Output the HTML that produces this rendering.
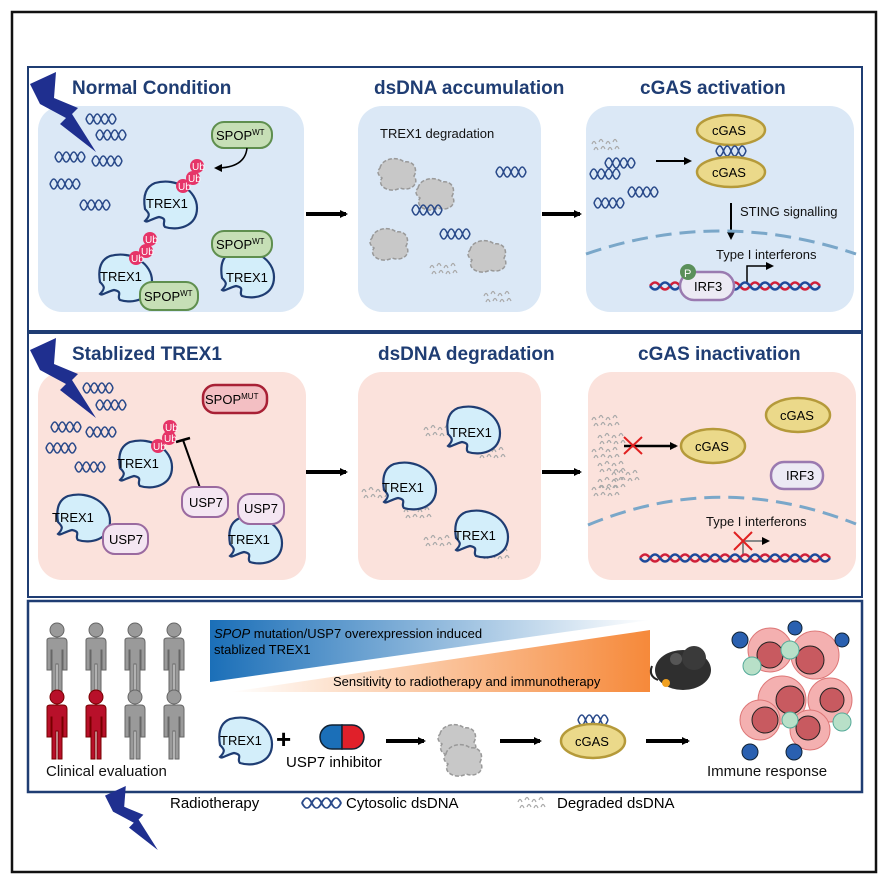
<!DOCTYPE html>
<html><head><meta charset="utf-8"><style>
html,body{margin:0;padding:0;background:#fff}
svg{display:block;font-family:"Liberation Sans",sans-serif}
.t{font-weight:bold;font-size:19px;fill:#1f3d73}
.l{font-size:13px;fill:#111}
</style></head><body>
<svg width="887" height="885" viewBox="0 0 887 885" xmlns="http://www.w3.org/2000/svg">
<defs>
<g id="dna"><path d="M0,0 q3.75,-10 7.5,0 t7.5,0 t7.5,0 t7.5,0" fill="none" stroke="#2a4a8a" stroke-width="1.6"/><path d="M0,0 q3.75,10 7.5,0 t7.5,0 t7.5,0 t7.5,0" fill="none" stroke="#2a4a8a" stroke-width="1.6"/></g>
<g id="deg"><path d="M0,0 q2,-5 4,0 M7,-2 q2,-5 4,0 M14,0 q2,-5 4,0 M21,-2 q2,-5 4,0 M2,6 q2,-5 4,0 M9,5 q2,-5 4,0 M16,6 q2,-5 4,0 M23,5 q2,-5 4,0" stroke="#aaa" stroke-width="1.2" fill="none"/></g>
<g id="trex"><path d="M8,0 C30,-6 50,8 50,25 C50,44 30,48 18,44 C14,40 22,36 12,34 C4,36 0,40 -2,38 C4,32 2,30 -2,26 C-4,14 -2,4 8,0Z" fill="#d3eefa" stroke="#1f3d73" stroke-width="2.2"/></g>
<g id="blob"><path d="M0,10 C2,0 18,-2 24,4 C34,2 38,12 34,18 C40,26 30,34 20,30 C10,36 -4,28 2,20 C-4,16 -2,12 0,10Z" fill="#c8c8c8" stroke="#999" stroke-width="1.5" stroke-dasharray="4,2"/></g>
<g id="ub"><circle cx="0" cy="0" r="7" fill="#e63468"/><text x="-5" y="4" font-size="10" fill="#fff">Ub</text></g>
<g id="bolt"><path d="M0,12 L26,0 L24,26 L48,36 L42,42 L66,80 L30,52 L36,46 L10,32 Z" fill="#1f2f8f"/></g>
<g id="person"><circle cx="0" cy="0" r="7"/><path d="M-10,10 Q-10,8 -6,8 H6 Q10,8 10,12 V40 H6 V20 H5 V62 H1 V34 H-1 V62 H-5 V20 H-6 V40 H-10Z"/></g>
<marker id="ar" markerWidth="8" markerHeight="8" refX="6" refY="4" orient="auto" markerUnits="userSpaceOnUse"><path d="M0,0 L8,4 L0,8Z" fill="#000"/></marker>
<linearGradient id="gb" x1="0" x2="1"><stop offset="0" stop-color="#1b6fb8"/><stop offset="1" stop-color="#fff"/></linearGradient>
<linearGradient id="go" x1="0" x2="1"><stop offset="0" stop-color="#fff"/><stop offset="1" stop-color="#f6893a"/></linearGradient>
</defs>
<rect x="12" y="12" width="864" height="860" fill="#fff" stroke="#111" stroke-width="2.5"/>
<rect x="28" y="67" width="834" height="264" fill="none" stroke="#1f3d73" stroke-width="2"/>
<rect x="28" y="333" width="834" height="264" fill="none" stroke="#1f3d73" stroke-width="2"/>
<rect x="28" y="601" width="834" height="191" fill="none" stroke="#1f3d73" stroke-width="2.5"/>
<!-- panel1 -->
<rect x="38" y="106" width="266" height="206" rx="24" fill="#dbe8f6"/>
<rect x="358" y="106" width="183" height="206" rx="24" fill="#dbe8f6"/>
<rect x="586" y="106" width="268" height="206" rx="24" fill="#dbe8f6"/>
<text class="t" x="72" y="94">Normal Condition</text>
<text class="t" x="374" y="94">dsDNA accumulation</text>
<text class="t" x="640" y="94">cGAS activation</text>
<use href="#bolt" x="30" y="72"/>
<use href="#dna" x="86" y="119"/><use href="#dna" x="96" y="135"/><use href="#dna" x="55" y="157"/><use href="#dna" x="92" y="161"/><use href="#dna" x="50" y="184"/><use href="#dna" x="80" y="205"/>
<rect x="212" y="122" width="60" height="26" rx="12" fill="#c6dfb6" stroke="#5f8f4f" stroke-width="2"/><text x="216" y="140" font-size="13">SPOP<tspan font-size="8" dy="-5">WT</tspan></text>
<path d="M247,148 Q245,168 216,168" fill="none" stroke="#000" stroke-width="1.5" marker-end="url(#ar)"/>
<use href="#trex" x="147" y="183"/><text x="146" y="208" font-size="13">TREX1</text>
<use href="#ub" x="197" y="166"/><use href="#ub" x="193" y="178"/><use href="#ub" x="183" y="186"/>
<use href="#trex" x="102" y="256"/><text x="100" y="281" font-size="13">TREX1</text>
<use href="#ub" x="150" y="239"/><use href="#ub" x="146" y="251"/><use href="#ub" x="136" y="258"/>
<rect x="140" y="282" width="58" height="28" rx="12" fill="#c6dfb6" stroke="#5f8f4f" stroke-width="2"/><text x="144" y="301" font-size="13">SPOP<tspan font-size="8" dy="-5">WT</tspan></text>
<use href="#trex" x="224" y="252"/><text x="226" y="282" font-size="13">TREX1</text>
<rect x="212" y="231" width="60" height="26" rx="12" fill="#c6dfb6" stroke="#5f8f4f" stroke-width="2"/><text x="216" y="249" font-size="13">SPOP<tspan font-size="8" dy="-5">WT</tspan></text>
<line x1="306" y1="214" x2="346" y2="214" stroke="#000" stroke-width="4" marker-end="url(#ar)"/>
<line x1="542" y1="214" x2="580" y2="214" stroke="#000" stroke-width="4" marker-end="url(#ar)"/>
<text class="l" x="380" y="138">TREX1 degradation</text>
<use href="#blob" x="380" y="158"/><use href="#blob" x="418" y="178"/><use href="#blob" x="372" y="228"/><use href="#blob" x="470" y="240"/>
<use href="#dna" x="496" y="172"/><use href="#dna" x="412" y="210"/><use href="#dna" x="440" y="234"/>
<use href="#deg" x="430" y="268"/><use href="#deg" x="484" y="296"/>
<use href="#deg" x="592" y="144"/><use href="#dna" x="605" y="163"/><use href="#dna" x="590" y="174"/><use href="#dna" x="628" y="192"/><use href="#dna" x="594" y="203"/>
<line x1="656" y1="161" x2="690" y2="161" stroke="#000" stroke-width="2" marker-end="url(#ar)"/>
<ellipse cx="731" cy="130" rx="34" ry="15" fill="#ebd98a" stroke="#b59a3a" stroke-width="2.5"/><text x="712" y="135" font-size="13">cGAS</text>
<use href="#dna" x="716" y="151"/>
<ellipse cx="731" cy="172" rx="34" ry="15" fill="#ebd98a" stroke="#b59a3a" stroke-width="2.5"/><text x="712" y="177" font-size="13">cGAS</text>
<line x1="731" y1="203" x2="731" y2="238" stroke="#000" stroke-width="2" marker-end="url(#ar)"/>
<text class="l" x="740" y="216">STING signalling</text>
<path d="M586,254 Q720,208 856,254" fill="none" stroke="#7aa7c9" stroke-width="3" stroke-dasharray="16,8"/>
<text class="l" x="716" y="259">Type I interferons</text>
<path d="M747,283 V266 H772" fill="none" stroke="#000" stroke-width="1.5" marker-end="url(#ar)"/>
<path d="M650,286 q5,-7 10,0 t10,0 t10,0 t10,0 t10,0 t10,0 t10,0 t10,0 t10,0 t10,0 t10,0 t10,0 t10,0 t10,0 t10,0 t10,0 t10,0" fill="none" stroke="#d0203a" stroke-width="2.5"/>
<path d="M650,286 q5,7 10,0 t10,0 t10,0 t10,0 t10,0 t10,0 t10,0 t10,0 t10,0 t10,0 t10,0 t10,0 t10,0 t10,0 t10,0 t10,0 t10,0" fill="none" stroke="#1f4a9a" stroke-width="2.5"/>
<rect x="680" y="272" width="54" height="28" rx="14" fill="#eceaf4" stroke="#9a7ab0" stroke-width="2.5"/><text x="694" y="291" font-size="13">IRF3</text>
<circle cx="688" cy="272" r="8" fill="#5a8f5a"/><text x="684" y="277" font-size="11" fill="#fff">P</text>
<!-- panel2 -->
<rect x="38" y="372" width="268" height="208" rx="24" fill="#fbe2dc"/>
<rect x="358" y="372" width="183" height="208" rx="24" fill="#fbe2dc"/>
<rect x="588" y="372" width="268" height="208" rx="24" fill="#fbe2dc"/>
<text class="t" x="72" y="360">Stablized TREX1</text>
<text class="t" x="378" y="360">dsDNA degradation</text>
<text class="t" x="638" y="360">cGAS inactivation</text>
<use href="#bolt" x="30" y="338"/>
<use href="#dna" x="83" y="388"/><use href="#dna" x="96" y="405"/><use href="#dna" x="51" y="427"/><use href="#dna" x="86" y="432"/><use href="#dna" x="46" y="448"/><use href="#dna" x="75" y="467"/>
<rect x="203" y="385" width="64" height="28" rx="12" fill="#f3bfc3" stroke="#a82035" stroke-width="2.5"/><text x="205" y="404" font-size="13">SPOP<tspan font-size="8" dy="-5">MUT</tspan></text>
<use href="#trex" x="122" y="442"/><text x="117" y="468" font-size="13">TREX1</text>
<use href="#ub" x="170" y="427"/><use href="#ub" x="169" y="438"/><use href="#ub" x="158" y="446"/>
<line x1="200" y1="488" x2="183" y2="440" stroke="#000" stroke-width="2"/>
<line x1="176" y1="442" x2="190" y2="438" stroke="#000" stroke-width="2.5"/>
<rect x="182" y="487" width="46" height="30" rx="12" fill="#f4e6f2" stroke="#9a6aa0" stroke-width="2"/><text x="189" y="507" font-size="13">USP7</text>
<use href="#trex" x="60" y="496"/><text x="52" y="522" font-size="13">TREX1</text>
<rect x="103" y="524" width="45" height="30" rx="12" fill="#f4e6f2" stroke="#9a6aa0" stroke-width="2"/><text x="109" y="544" font-size="13">USP7</text>
<use href="#trex" x="232" y="518"/><text x="228" y="544" font-size="13">TREX1</text>
<rect x="238" y="494" width="46" height="30" rx="12" fill="#f4e6f2" stroke="#9a6aa0" stroke-width="2"/><text x="244" y="513" font-size="13">USP7</text>
<line x1="306" y1="472" x2="346" y2="472" stroke="#000" stroke-width="4" marker-end="url(#ar)"/>
<line x1="542" y1="472" x2="580" y2="472" stroke="#000" stroke-width="4" marker-end="url(#ar)"/>
<use href="#deg" x="424" y="430"/><use href="#deg" x="478" y="452"/><use href="#trex" x="450" y="408"/><text x="450" y="437" font-size="13">TREX1</text>
<use href="#deg" x="362" y="492"/><use href="#deg" x="404" y="512"/><use href="#trex" x="386" y="464"/><text x="382" y="492" font-size="13">TREX1</text>
<use href="#deg" x="424" y="540"/><use href="#deg" x="482" y="553"/><use href="#trex" x="458" y="512"/><text x="454" y="540" font-size="13">TREX1</text>
<use href="#deg" x="592" y="420"/><use href="#deg" x="598" y="438"/><use href="#deg" x="592" y="452"/><use href="#deg" x="598" y="466"/><use href="#deg" x="612" y="475"/><use href="#deg" x="598" y="482"/><use href="#deg" x="592" y="490"/>
<line x1="624" y1="446" x2="676" y2="446" stroke="#000" stroke-width="2.5" marker-end="url(#ar)"/>
<path d="M624,437 L642,454 M642,437 L624,454" stroke="#e02020" stroke-width="2"/>
<ellipse cx="713" cy="446" rx="32" ry="17" fill="#ebd98a" stroke="#b59a3a" stroke-width="2.5"/><text x="695" y="451" font-size="13">cGAS</text>
<ellipse cx="798" cy="415" rx="32" ry="17" fill="#ebd98a" stroke="#b59a3a" stroke-width="2.5"/><text x="780" y="420" font-size="13">cGAS</text>
<rect x="771" y="462" width="52" height="27" rx="13" fill="#eceaf4" stroke="#9a7ab0" stroke-width="2.5"/><text x="786" y="480" font-size="13">IRF3</text>
<path d="M588,525 Q720,470 856,524" fill="none" stroke="#7aa7c9" stroke-width="3" stroke-dasharray="16,8"/>
<text class="l" x="706" y="526">Type I interferons</text>
<path d="M743,555 V541 H768" fill="none" stroke="#888" stroke-width="2" marker-end="url(#ar)"/>
<path d="M734,532 L752,550 M752,532 L734,550" stroke="#e02020" stroke-width="2"/>
<path d="M640,558 q5,-7 10,0 t10,0 t10,0 t10,0 t10,0 t10,0 t10,0 t10,0 t10,0 t10,0 t10,0 t10,0 t10,0 t10,0 t10,0 t10,0 t10,0 t10,0 t10,0" fill="none" stroke="#d0203a" stroke-width="2.5"/>
<path d="M640,558 q5,7 10,0 t10,0 t10,0 t10,0 t10,0 t10,0 t10,0 t10,0 t10,0 t10,0 t10,0 t10,0 t10,0 t10,0 t10,0 t10,0 t10,0 t10,0 t10,0" fill="none" stroke="#1f4a9a" stroke-width="2.5"/>
<!-- panel3 -->
<g fill="#9a9a9a" stroke="#666" stroke-width="1">
<use href="#person" x="57" y="630"/><use href="#person" x="96" y="630"/><use href="#person" x="135" y="630"/><use href="#person" x="174" y="630"/>
<use href="#person" x="135" y="697"/><use href="#person" x="174" y="697"/></g>
<g fill="#b8102a" stroke="#700"><use href="#person" x="57" y="697"/><use href="#person" x="96" y="697"/></g>
<text x="46" y="776" font-size="15" fill="#111">Clinical evaluation</text>
<polygon points="210,620 650,620 210,682" fill="url(#gb)"/>
<polygon points="650,630 650,692 230,692" fill="url(#go)"/>
<text x="214" y="638" font-size="13"><tspan font-style="italic">SPOP</tspan> mutation/USP7 overexpression induced</text>
<text x="214" y="654" font-size="13">stablized TREX1</text>
<text x="333" y="686" font-size="13">Sensitivity to radiotherapy and immunotherapy</text>
<use href="#trex" x="222" y="719"/><text x="220" y="745" font-size="13">TREX1</text>
<text x="276" y="748" font-size="26" font-weight="bold">+</text>
<path d="M342,725 H332 a12,12 0 0 0 0,24 H342Z" fill="#1b6fb8" stroke="#123" stroke-width="1.5"/>
<path d="M342,725 H352 a12,12 0 0 1 0,24 H342Z" fill="#e0202a" stroke="#123" stroke-width="1.5"/>
<text x="286" y="767" font-size="15">USP7 inhibitor</text>
<line x1="386" y1="741" x2="424" y2="741" stroke="#000" stroke-width="4" marker-end="url(#ar)"/>
<use href="#blob" x="440" y="724"/><use href="#blob" x="446" y="744"/>
<line x1="500" y1="741" x2="540" y2="741" stroke="#000" stroke-width="4" marker-end="url(#ar)"/>
<use href="#dna" x="578" y="720"/>
<ellipse cx="593" cy="741" rx="32" ry="17" fill="#ebd98a" stroke="#b59a3a" stroke-width="2.5"/><text x="575" y="746" font-size="13">cGAS</text>
<line x1="646" y1="741" x2="688" y2="741" stroke="#000" stroke-width="4" marker-end="url(#ar)"/>
<ellipse cx="683" cy="670" rx="28" ry="20" fill="#2f2f2f"/><circle cx="694" cy="658" r="12" fill="#3a3a3a"/><circle cx="676" cy="659" r="6" fill="#555"/><circle cx="666" cy="683" r="4" fill="#f0a020"/><path d="M658,680 Q648,676 652,666" stroke="#222" stroke-width="2" fill="none"/>
<g stroke="#d77" stroke-width="1">
<circle cx="770" cy="650" r="22" fill="#f4b0b0"/><circle cx="815" cy="655" r="24" fill="#f4b0b0"/><circle cx="782" cy="700" r="24" fill="#f4b0b0"/><circle cx="830" cy="700" r="22" fill="#f4b0b0"/><circle cx="760" cy="720" r="20" fill="#f4b0b0"/><circle cx="810" cy="730" r="20" fill="#f4b0b0"/></g>
<g fill="#c85a60" stroke="#222" stroke-width="1">
<circle cx="770" cy="655" r="13"/><circle cx="810" cy="660" r="14"/><circle cx="790" cy="700" r="14"/><circle cx="832" cy="700" r="12"/><circle cx="765" cy="720" r="13"/><circle cx="808" cy="728" r="12"/></g>
<g fill="#b8e0c8" stroke="#5a9"><circle cx="752" cy="666" r="9"/><circle cx="790" cy="650" r="9"/><circle cx="842" cy="722" r="9"/><circle cx="790" cy="720" r="8"/></g>
<g fill="#2a60b0" stroke="#123"><circle cx="740" cy="640" r="8"/><circle cx="795" cy="628" r="7"/><circle cx="750" cy="752" r="8"/><circle cx="794" cy="752" r="8"/><circle cx="842" cy="640" r="7"/></g>
<text x="707" y="776" font-size="15" fill="#111">Immune response</text>
<!-- legend -->
<use href="#bolt" x="105" y="786" transform="translate(105,786) scale(0.8) translate(-105,-786)"/>
<text x="170" y="808" font-size="15">Radiotherapy</text>
<use href="#dna" x="302" y="803" transform="translate(302,803) scale(1.3,1) translate(-302,-803)"/>
<text x="346" y="808" font-size="15">Cytosolic dsDNA</text>
<use href="#deg" x="518" y="802"/>
<text x="557" y="808" font-size="15">Degraded dsDNA</text>
</svg>
</body></html>
